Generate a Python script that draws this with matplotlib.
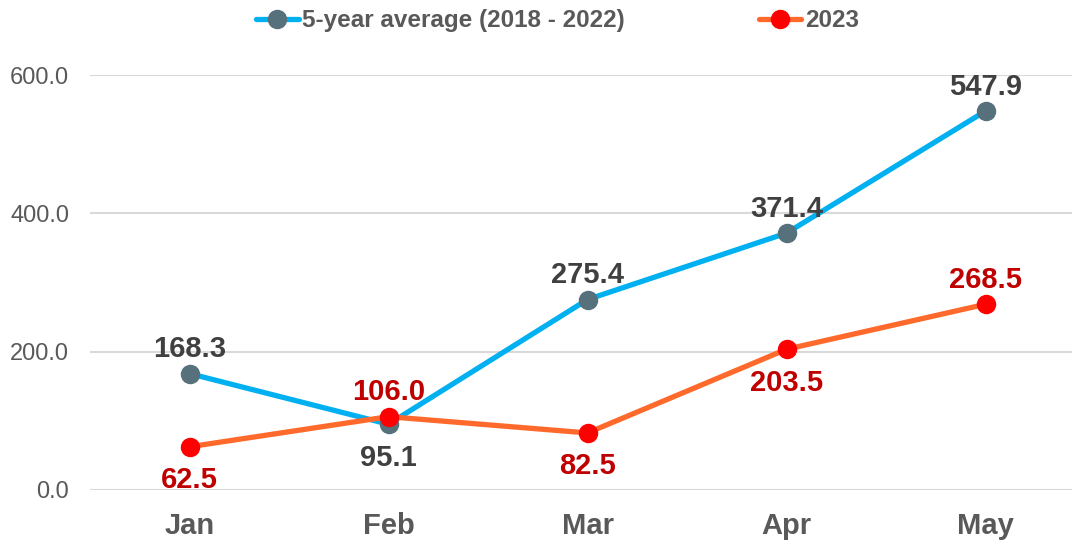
import matplotlib
matplotlib.use("Agg")
import matplotlib.pyplot as plt

plt.rcParams['font.family'] = ['Liberation Sans', 'DejaVu Sans']

months = ["Jan", "Feb", "Mar", "Apr", "May"]
avg_5yr = [168.3, 95.1, 275.4, 371.4, 547.9]
y2023 = [62.5, 106.0, 82.5, 203.5, 268.5]
yticks = [0, 200, 400, 600]

# label placement: +1 above, -1 below
avg_pos = [1, -1, 1, 1, 1]
y23_pos = [-1, 1, -1, -1, 1]

fig = plt.figure(figsize=(10.72, 5.40), dpi=100)
ax = fig.add_axes([90/1072, 50/540, 995/1072, 415/540])

x = list(range(len(months)))
ax.plot(x, avg_5yr, color="#00B0F0", lw=3.8, marker="o", markersize=13,
        markerfacecolor="#56707C", markeredgecolor="#56707C",
        label="5-year average (2018 - 2022)", zorder=3, solid_capstyle="round")
ax.plot(x, y2023, color="#FF6A2C", lw=3.8, marker="o", markersize=13,
        markerfacecolor="#FF0000", markeredgecolor="#FF0000",
        label="2023", zorder=4, solid_capstyle="round")

def offset(p):
    return 17.5 if p > 0 else -24.0

for xi, v, p in zip(x, avg_5yr, avg_pos):
    ax.annotate(f"{v:.1f}", (xi, v), xytext=(0, offset(p)), textcoords="offset points",
                ha="center", va="center", fontsize=21, fontweight="bold",
                color="#404040", zorder=5)
for xi, v, p in zip(x, y2023, y23_pos):
    ax.annotate(f"{v:.1f}", (xi, v), xytext=(0, offset(p)), textcoords="offset points",
                ha="center", va="center", fontsize=21, fontweight="bold",
                color="#C00000", zorder=5)

ax.set_xlim(-0.5, len(months) - 0.5)
ax.set_ylim(0, 600)
ax.set_yticks(yticks)
ax.set_yticklabels([f"{t:.1f}" for t in yticks])
ax.set_xticks(x)
ax.set_xticklabels(months)
ax.tick_params(axis="y", length=0, pad=15, labelsize=17, labelcolor="#595959")
ax.tick_params(axis="x", length=0, pad=16, labelsize=21, labelcolor="#595959")
for lab in ax.get_xticklabels():
    lab.set_fontweight("bold")
ax.grid(axis="y", color="#D9D9D9", lw=1.5)
ax.set_axisbelow(True)
for s in ax.spines.values():
    s.set_visible(False)

leg = fig.legend(loc="center", bbox_to_anchor=(0.520, 0.962), ncol=2, frameon=False,
                 fontsize=17.5, handlelength=1.75, handletextpad=0.15, columnspacing=5.5)
for t in leg.get_texts():
    t.set_fontweight("bold")
    t.set_color("#595959")

fig.savefig("out.png", dpi=100)
